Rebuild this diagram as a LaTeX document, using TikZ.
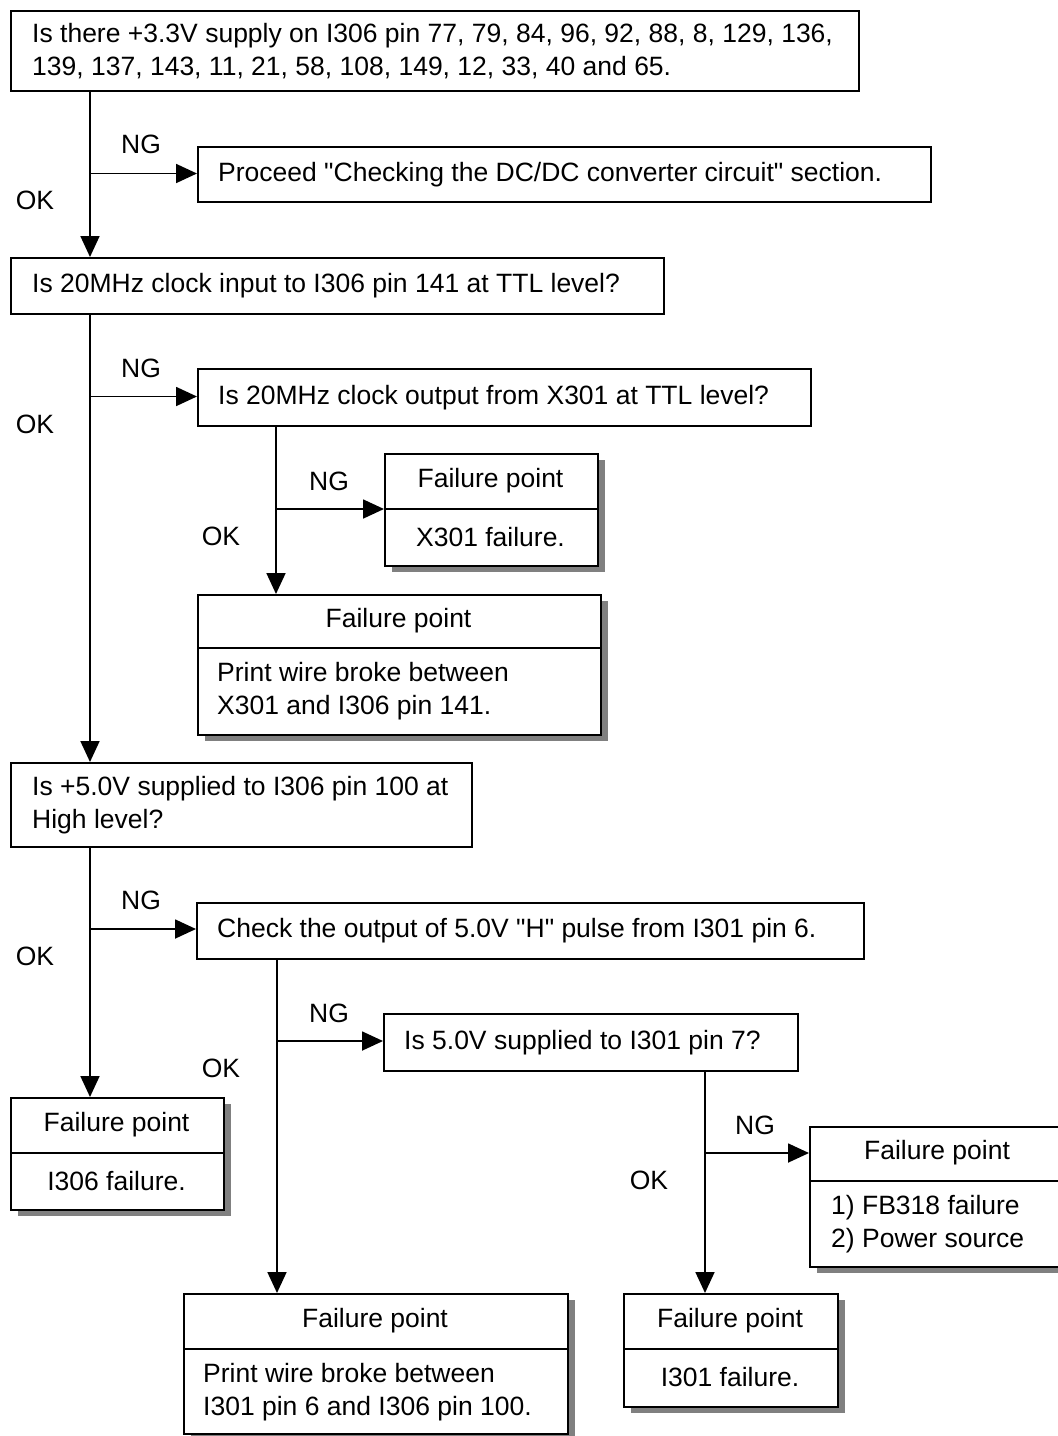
\documentclass[tikz,border=0pt]{standalone}
\usepackage{fontspec}
\setmainfont{Liberation Sans}
\usetikzlibrary{arrows.meta,shadows,calc}
\begin{document}
\begin{tikzpicture}[x=1pt,y=-1pt,
  font=\fontsize{26.5}{33}\selectfont,
  qbox/.style={draw,line width=1.8pt,rectangle,inner sep=0pt,anchor=north west,fill=white},
  fbox/.style={qbox,general shadow={fill=black!50,shadow xshift=7pt,shadow yshift=-6pt}},
  txt/.style={inner sep=0pt,align=left},
  lbl/.style={inner sep=0pt},
  ln/.style={line width=1.8pt},
  arr/.style={line width=1.8pt,-{Triangle[length=21pt,width=19pt]}}]
\clip (0,0) rectangle (1058,1436);
\fill[white] (0,0) rectangle (1058,1436);

% boxes
\node[qbox,minimum width=848pt,minimum height=80pt] (b1) at (10,10) {};
\node[txt,anchor=west] (t1) at ([xshift=22pt]b1.west) {Is there +3.3V supply on I306 pin 77, 79, 84, 96, 92, 88, 8, 129, 136,\\139, 137, 143, 11, 21, 58, 108, 149, 12, 33, 40 and 65.};

\node[qbox,minimum width=733pt,minimum height=55pt] (b2) at (197,146) {};
\node[txt,anchor=west] (t2) at ([xshift=21pt]b2.west) {Proceed \textquotedbl Checking the DC/DC converter circuit\textquotedbl{} section.};

\node[qbox,minimum width=653pt,minimum height=56pt] (b3) at (10,257) {};
\node[txt,anchor=west] (t3) at ([xshift=22pt]b3.west) {Is 20MHz clock input to I306 pin 141 at TTL level?};

\node[qbox,minimum width=613pt,minimum height=57pt] (b4) at (197,368) {};
\node[txt,anchor=west] (t4) at ([xshift=21pt]b4.west) {Is 20MHz clock output from X301 at TTL level?};

\node[fbox,minimum width=213pt,minimum height=112pt] (b5) at (384,453) {};
\draw[ln] (384,509) -- (597,509);
\node[lbl] (t5a) at (490.5,481) {Failure point};
\node[lbl] (t5b) at (490.5,537) {X301 failure.};

\node[fbox,minimum width=403pt,minimum height=140pt] (b6) at (197,594) {};
\draw[ln] (197,648) -- (600,648);
\node[lbl] (t6a) at (398.5,621) {Failure point};
\node[txt,anchor=west] (t6b) at (217,691) {Print wire broke between\\X301 and I306 pin 141.};

\node[qbox,minimum width=461pt,minimum height=84pt] (b7) at (10,762) {};
\node[txt,anchor=west] (t7) at ([xshift=22pt]b7.west) {Is +5.0V supplied to I306 pin 100 at\\High level?};

\node[qbox,minimum width=667pt,minimum height=56pt] (b8) at (196,902) {};
\node[txt,anchor=west] (t8) at ([xshift=21pt]b8.west) {Check the output of 5.0V \textquotedbl H\textquotedbl{} pulse from I301 pin 6.};

\node[qbox,minimum width=414pt,minimum height=57pt] (b9) at (383,1013) {};
\node[txt,anchor=west] (t9) at ([xshift=21pt]b9.west) {Is 5.0V supplied to I301 pin 7?};

\node[fbox,minimum width=213pt,minimum height=112pt] (b10) at (10,1097) {};
\draw[ln] (10,1153) -- (223,1153);
\node[lbl] (t10a) at (116.5,1125) {Failure point};
\node[lbl] (t10b) at (116.5,1181) {I306 failure.};

\node[fbox,minimum width=255pt,minimum height=140pt] (b11) at (809,1126) {};
\draw[ln] (809,1181) -- (1064,1181);
\node[lbl] (t11a) at (937,1153) {Failure point};
\node[txt,anchor=west] (t11b) at (831,1224) {1) FB318 failure\\2) Power source};

\node[fbox,minimum width=384pt,minimum height=140pt] (b12) at (183,1293) {};
\draw[ln] (183,1349) -- (567,1349);
\node[lbl] (t12a) at (375,1321) {Failure point};
\node[txt,anchor=west] (t12b) at (203,1392) {Print wire broke between\\I301 pin 6 and I306 pin 100.};

\node[fbox,minimum width=214pt,minimum height=113pt] (b13) at (623,1293) {};
\draw[ln] (623,1349) -- (837,1349);
\node[lbl] (t13a) at (730,1321) {Failure point};
\node[lbl] (t13b) at (730,1377) {I301 failure.};

% junctions
\coordinate (j1) at (90,173.5);
\coordinate (j2) at (90,396.5);
\coordinate (j3) at (276,509);
\coordinate (j4) at (90,929);
\coordinate (j5) at (277,1041);
\coordinate (j6) at (705,1153);

% connectors
\draw[arr] (b1.south -| j1) -- (b3.north -| j1);
\draw[arr] (j1) -- (j1 -| b2.west);
\draw[arr] (b3.south -| j2) -- (b7.north -| j2);
\draw[arr] (j2) -- (j2 -| b4.west);
\draw[arr] (b4.south -| j3) -- (b6.north -| j3);
\draw[arr] (j3) -- (j3 -| b5.west);
\draw[arr] (b7.south -| j4) -- (b10.north -| j4);
\draw[arr] (j4) -- (j4 -| b8.west);
\draw[arr] (b8.south -| j5) -- (b12.north -| j5);
\draw[arr] (j5) -- (j5 -| b9.west);
\draw[arr] (b9.south -| j6) -- (b13.north -| j6);
\draw[arr] (j6) -- (j6 -| b11.west);

% labels
\node[lbl] (ng1) at (141,144) {NG};
\node[lbl] (ok1) at (35,200) {OK};
\node[lbl] (ng2) at (141,368) {NG};
\node[lbl] (ok2) at (35,424) {OK};
\node[lbl] (ng3) at (329,481) {NG};
\node[lbl] (ok3) at (221,536) {OK};
\node[lbl] (ng4) at (141,900) {NG};
\node[lbl] (ok4) at (35,956) {OK};
\node[lbl] (ng5) at (329,1013) {NG};
\node[lbl] (ok5) at (221,1068) {OK};
\node[lbl] (ng6) at (755,1125) {NG};
\node[lbl] (ok6) at (649,1180) {OK};
\end{tikzpicture}
\end{document}
